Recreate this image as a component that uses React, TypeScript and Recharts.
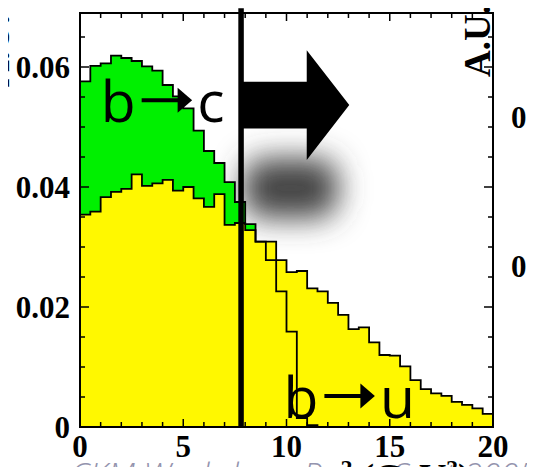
import React from 'react';
import { ComposedChart, Area, Line, XAxis, YAxis, ReferenceArea, ReferenceLine } from 'recharts';

// q^2 spectra in 0.5 GeV^2 bins, 0..20 GeV^2 (arbitrary units)
const BIN_WIDTH = 0.5;

const bToC = [
  0.0576, 0.0602, 0.0606, 0.0619, 0.0615, 0.0610, 0.0601, 0.0594, 0.0570, 0.0551,
  0.0531, 0.0494, 0.0460, 0.0440, 0.0408, 0.0375, 0.0338, 0.0309, 0.0278, 0.0226,
  0.0159, 0.0015, 0.0003, 0, 0, 0, 0, 0, 0, 0,
  0, 0, 0, 0, 0, 0, 0, 0, 0, 0,
];

const bToU = [
  0.0354, 0.0359, 0.0383, 0.0392, 0.0397, 0.0421, 0.0402, 0.0406, 0.0412, 0.0394,
  0.0400, 0.0381, 0.0367, 0.0388, 0.0337, 0.0340, 0.0328, 0.0309, 0.0309, 0.0278,
  0.0258, 0.0260, 0.0231, 0.0226, 0.0207, 0.0187, 0.0163, 0.0166, 0.0141, 0.0120,
  0.0119, 0.0101, 0.0078, 0.0063, 0.0056, 0.0052, 0.0042, 0.0037, 0.0031, 0.0022,
];

const xTicks = [0, 1, 2, 3, 4, 5, 6, 7, 8, 9, 10, 11, 12, 13, 14, 15, 16, 17, 18, 19, 20];
const xLabels = [0, 5, 10, 15, 20];
const yTicks = [0, 0.005, 0.01, 0.015, 0.02, 0.025, 0.03, 0.035, 0.04, 0.045, 0.05, 0.055, 0.06, 0.065];
const yLabels = ['0', '0.02', '0.04', '0.06'];

const Y_MAX = 0.069;
const Q2_CUT = 7.8;

const W = 535;
const H = 475;
const MARGIN = { top: 13, right: 42, bottom: 8, left: 10 };
const X_AXIS_H = 40;
const Y_AXIS_W = 70;
const PLOT = {
  left: MARGIN.left + Y_AXIS_W,
  right: W - MARGIN.right,
  top: MARGIN.top,
  bottom: H - MARGIN.bottom - X_AXIS_H,
};

const GREEN = '#00f000';
const YELLOW = '#fff800';
const SERIF = '"Liberation Serif", "Times New Roman", serif';
const SANS = '"Open Sans", "Noto Sans", sans-serif';

// histogram rows at bin low edges, closed with one extra edge at 20
const rows = bToU.map((u, i) => ({ q2: i * BIN_WIDTH, bc: bToC[i], bu: u }));
rows.push({
  q2: bToU.length * BIN_WIDTH,
  bc: bToC[bToC.length - 1],
  bu: bToU[bToU.length - 1],
});

function XTick(props: any) {
  const { x, payload } = props;
  const v = payload.value;
  const major = xLabels.includes(v);
  const len = major ? 8 : 5;
  return (
    <g>
      <line x1={x} x2={x} y1={PLOT.bottom} y2={PLOT.bottom - len} stroke="#000" strokeWidth={1.5} />
      <line x1={x} x2={x} y1={PLOT.top} y2={PLOT.top + len} stroke="#000" strokeWidth={1.5} />
      {major && (
        <text x={x} y={PLOT.bottom + 30} textAnchor="middle" fontFamily={SERIF} fontWeight="bold" fontSize={31} fill="#000">
          {v}
        </text>
      )}
    </g>
  );
}

function YTick(props: any) {
  const { y, payload } = props;
  const v = payload.value;
  const label = yLabels.find((l) => Math.abs(parseFloat(l) - v) < 1e-9);
  const len = label ? 9 : 5;
  return (
    <g>
      <line x1={PLOT.left} x2={PLOT.left + len} y1={y} y2={y} stroke="#000" strokeWidth={1.5} />
      <line x1={PLOT.right} x2={PLOT.right - len} y1={y} y2={y} stroke="#000" strokeWidth={1.5} />
      {label && (
        <text x={PLOT.left - 10} y={y + 10.5} textAnchor="end" fontFamily={SERIF} fontWeight="bold" fontSize={31} fill="#000">
          {label}
        </text>
      )}
    </g>
  );
}

// "b -> X" decay label; box left/bottom = text start / baseline
function decayLabel(to: string) {
  return (props: any) => {
    const { x, y, height } = props;
    const base = y + height;
    const ay = base - 22;
    return (
      <g>
        <text x={x} y={base} fontFamily={SANS} fontWeight={500} fontSize={57} fill="#000">b</text>
        <line x1={x + 41} x2={x + 80} y1={ay} y2={ay} stroke="#000" strokeWidth={4} />
        <polygon points={`${x + 77},${ay - 12.5} ${x + 91.5},${ay} ${x + 77},${ay + 12.5}`} fill="#000" />
        <text x={x + 96.5} y={base} fontFamily={SANS} fontWeight={500} fontSize={57} fill="#000">{to}</text>
      </g>
    );
  };
}

function BigArrow(props: any) {
  const { x, y, width: w, height: h } = props;
  const bx = x + w * 0.6;
  const pts = [
    [x, y + h * 0.288],
    [bx, y + h * 0.288],
    [bx, y],
    [x + w, y + h * 0.5],
    [bx, y + h],
    [bx, y + h * 0.712],
    [x, y + h * 0.712],
  ]
    .map((p) => p.join(','))
    .join(' ');
  return <polygon points={pts} fill="#000" />;
}

function ArrowShadow(props: any) {
  const { x, y, width, height } = props;
  return (
    <g>
      <defs>
        <filter id="arrowShadowBlur" x="-80%" y="-150%" width="260%" height="400%">
          <feGaussianBlur stdDeviation="15" />
        </filter>
      </defs>
      <rect x={x} y={y} width={width} height={height} rx={22} fill="#444" filter="url(#arrowShadowBlur)" />
    </g>
  );
}

function Frame(props: any) {
  const { x, y, width, height } = props;
  return <rect x={x} y={y} width={width} height={height} fill="none" stroke="#000" strokeWidth={2} />;
}

export default function App() {
  return (
    <div style={{ margin: -8, position: 'relative', width: W, height: H }}>
      <ComposedChart width={W} height={H} data={rows} margin={MARGIN}>
        <XAxis
          dataKey="q2"
          type="number"
          domain={[0, 20]}
          ticks={xTicks}
          interval={0}
          allowDataOverflow
          height={X_AXIS_H}
          axisLine={false}
          tickLine={false}
          tickSize={0}
          tickMargin={0}
          tick={(p: any) => <XTick {...p} />}
        />
        <YAxis
          type="number"
          domain={[0, Y_MAX]}
          ticks={yTicks}
          interval={0}
          allowDataOverflow
          width={Y_AXIS_W}
          axisLine={false}
          tickLine={false}
          tickSize={0}
          tickMargin={0}
          tick={(p: any) => <YTick {...p} />}
        />
        <ReferenceArea
          x1={7.9}
          x2={12.5}
          y1={0.0348}
          y2={0.0448}
          ifOverflow="visible"
          shape={(p: any) => <ArrowShadow {...p} />}
          zIndex={50}
        />
        <Area
          type="stepAfter"
          dataKey="bc"
          baseValue={0}
          fill={GREEN}
          fillOpacity={1}
          stroke="none"
          dot={false}
          activeDot={false}
          isAnimationActive={false}
          zIndex={100}
        />
        <Area
          type="stepAfter"
          dataKey="bu"
          baseValue={0}
          fill={YELLOW}
          fillOpacity={1}
          stroke="#000"
          strokeWidth={1.8}
          dot={false}
          activeDot={false}
          isAnimationActive={false}
          zIndex={110}
        />
        <Line
          type="stepAfter"
          dataKey="bc"
          stroke="#000"
          strokeWidth={1.8}
          dot={false}
          activeDot={false}
          isAnimationActive={false}
          zIndex={120}
        />
        <ReferenceLine
          segment={[
            { x: Q2_CUT, y: 0 },
            { x: Q2_CUT, y: 0.0698 },
          ]}
          ifOverflow="visible"
          stroke="#000"
          strokeWidth={5.5}
          zIndex={130}
        />
        <ReferenceArea
          x1={7.89}
          x2={13.04}
          y1={0.0445}
          y2={0.0628}
          ifOverflow="visible"
          shape={(p: any) => <BigArrow {...p} />}
          zIndex={140}
        />
        <ReferenceArea
          x1={1.0}
          x2={6.8}
          y1={0.0508}
          y2={0.0578}
          ifOverflow="visible"
          shape={decayLabel('c')}
          zIndex={150}
        />
        <ReferenceArea
          x1={9.85}
          x2={15.7}
          y1={0.0015}
          y2={0.0085}
          ifOverflow="visible"
          shape={decayLabel('u')}
          zIndex={150}
        />
        <ReferenceArea
          x1={0}
          x2={20}
          y1={0}
          y2={Y_MAX}
          ifOverflow="visible"
          shape={(p: any) => <Frame {...p} />}
          zIndex={160}
        />
      </ComposedChart>
      <svg
        width={W}
        height={H}
        style={{ position: 'absolute', left: 0, top: 0, pointerEvents: 'none', overflow: 'hidden' }}
      >
        <text transform="translate(9,87) rotate(-90)" fontFamily={SERIF} fontWeight="bold" fontSize={37} fill="#000">
          A.U.
        </text>
        <text transform="translate(490,77) rotate(-90)" fontFamily={SERIF} fontWeight="bold" fontSize={37} fill="#000">
          A.U.
        </text>
        <text x={511} y={128} fontFamily={SERIF} fontWeight="bold" fontSize={31} fill="#000">0.</text>
        <text x={511} y={277} fontFamily={SERIF} fontWeight="bold" fontSize={31} fill="#000">0.</text>
        <text x={70} y={487} fontFamily={SANS} fontStyle="italic" fontWeight={300} fontSize={33} fill="#9494ae">
          CKM Workshop, Rome Sept 2005
        </text>
        <text x={320} y={490} fontFamily={SERIF} fontWeight="bold" fontSize={37} fill="#000">
          q<tspan fontSize={24} dy={-14}>2</tspan>
          <tspan dy={14}> (GeV</tspan>
          <tspan fontSize={24} dy={-14}>2</tspan>
          <tspan dy={14}>)</tspan>
        </text>
      </svg>
    </div>
  );
}
